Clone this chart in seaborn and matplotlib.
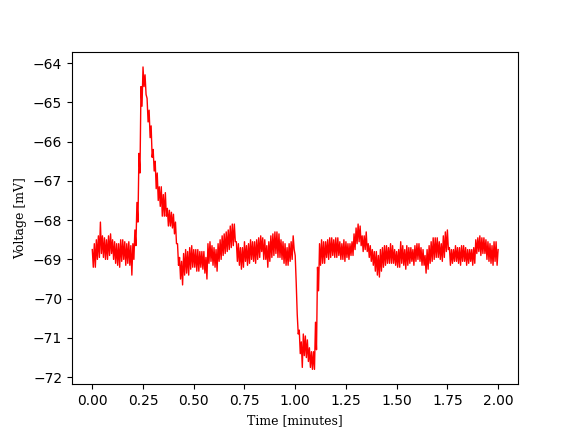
import numpy as np
import pandas as pd
import matplotlib
matplotlib.use("Agg")
import matplotlib.pyplot as plt
import seaborn as sns

# sampling grid of the recording (minutes), one reading every 0.01 min
time_min = np.round(np.linspace(0.0, 2.0, 201), 3)

# upper edge of the noisy trace at each sample (mV)
v_upper = [
    -68.75, -68.60, -68.50, -68.40, -68.05, -68.40, -68.45, -68.50, -68.40, -68.35,
    -68.50, -68.55, -68.60, -68.60, -68.50, -68.50, -68.55, -68.60, -68.55, -68.65,
    -68.60, -68.25, -67.55, -66.30, -64.60, -64.10, -64.30, -64.90, -65.20, -65.60,
    -66.20, -66.50, -66.80, -67.15, -67.15, -67.35, -67.30, -67.70, -67.75, -67.80,
    -67.85, -68.05, -68.60, -68.95, -69.05, -68.85, -68.75, -68.80, -68.70, -68.65,
    -68.75, -68.75, -68.75, -68.80, -68.80, -68.80, -68.95, -68.60, -68.55, -68.65,
    -68.70, -68.75, -68.60, -68.50, -68.40, -68.35, -68.30, -68.25, -68.15, -68.10,
    -68.10, -68.55, -68.60, -68.70, -68.70, -68.55, -68.65, -68.60, -68.50, -68.55,
    -68.55, -68.50, -68.45, -68.40, -68.45, -68.50, -68.65, -68.55, -68.40, -68.35,
    -68.30, -68.30, -68.35, -68.50, -68.55, -68.60, -68.70, -68.60, -68.55, -68.40,
    -68.90, -70.40, -70.80, -71.10, -70.90, -70.95, -71.05, -71.25, -71.35, -71.35,
    -70.60, -69.20, -68.60, -68.50, -68.55, -68.55, -68.50, -68.45, -68.45, -68.50,
    -68.45, -68.45, -68.55, -68.60, -68.50, -68.55, -68.60, -68.60, -68.55, -68.35,
    -68.20, -68.10, -68.15, -68.40, -68.40, -68.30, -68.60, -68.65, -68.75, -68.80,
    -68.80, -68.90, -68.75, -68.70, -68.65, -68.65, -68.70, -68.60, -68.65, -68.75,
    -68.80, -68.75, -68.55, -68.65, -68.75, -68.65, -68.70, -68.70, -68.75, -68.65,
    -68.60, -68.60, -68.70, -68.75, -68.90, -68.75, -68.65, -68.55, -68.45, -68.45,
    -68.45, -68.55, -68.60, -68.40, -68.30, -68.25, -68.70, -68.75, -68.75, -68.65,
    -68.70, -68.70, -68.65, -68.65, -68.70, -68.75, -68.75, -68.75, -68.70, -68.50,
    -68.45, -68.40, -68.45, -68.45, -68.50, -68.55, -68.60, -68.65, -68.55, -68.55,
    -68.75,
]

# lower edge of the noisy trace at each sample (mV)
v_lower = [
    -69.20, -69.20, -69.00, -68.95, -68.85, -68.95, -69.00, -69.00, -68.90, -68.85,
    -69.00, -69.10, -69.15, -69.20, -69.05, -69.00, -69.15, -69.10, -69.15, -69.40,
    -69.00, -68.65, -68.05, -66.80, -65.10, -64.60, -64.80, -65.50, -65.90, -66.40,
    -66.75, -67.20, -67.50, -67.65, -67.90, -67.90, -67.90, -68.15, -68.15, -68.20,
    -68.35, -68.60, -69.15, -69.50, -69.65, -69.40, -69.35, -69.40, -69.25, -69.20,
    -69.20, -69.30, -69.30, -69.20, -69.25, -69.35, -69.50, -69.10, -69.05, -69.15,
    -69.20, -69.30, -69.05, -69.00, -68.90, -68.85, -68.80, -68.75, -68.70, -68.65,
    -68.55, -69.05, -69.15, -69.25, -69.20, -69.05, -69.15, -69.10, -69.00, -69.05,
    -69.10, -69.00, -68.95, -68.80, -69.00, -69.00, -69.20, -69.05, -68.95, -68.90,
    -68.85, -68.95, -68.95, -69.00, -69.10, -69.15, -69.15, -69.05, -69.00, -68.75,
    -69.60, -70.90, -71.40, -71.75, -71.45, -71.50, -71.60, -71.75, -71.80, -71.80,
    -71.30, -69.80, -69.15, -69.10, -69.10, -68.95, -69.00, -68.95, -68.90, -68.95,
    -68.95, -68.90, -69.00, -69.00, -69.05, -68.95, -69.00, -68.90, -68.90, -68.75,
    -68.60, -68.55, -68.65, -68.80, -68.75, -68.80, -68.95, -69.05, -69.15, -69.30,
    -69.40, -69.45, -69.30, -69.20, -69.15, -69.10, -69.10, -69.10, -69.10, -69.15,
    -69.20, -69.20, -69.10, -69.15, -69.25, -69.15, -69.10, -69.05, -69.15, -69.05,
    -69.00, -69.05, -69.15, -69.15, -69.35, -69.25, -69.10, -69.05, -69.00, -68.95,
    -68.95, -69.00, -69.05, -68.95, -68.80, -68.75, -69.15, -69.10, -69.05, -69.05,
    -69.10, -69.15, -69.05, -69.05, -69.15, -69.10, -69.05, -69.15, -69.10, -68.85,
    -68.80, -68.90, -68.85, -68.85, -69.00, -69.05, -69.10, -69.15, -69.05, -69.15,
    -69.15,
]

# interleave upper / lower edges half a sample apart so the trace fills its noise band
t_lo = time_min[:-1] + 0.005
t_all = np.concatenate([time_min, t_lo])
v_all = np.concatenate([v_upper, v_lower[:-1]])
df = pd.DataFrame({"time": t_all, "voltage": v_all}).sort_values("time")

fig, ax = plt.subplots(figsize=(5.76, 4.32), dpi=100)
sns.lineplot(data=df, x="time", y="voltage", color="red", linewidth=1.0,
             estimator=None, errorbar=None, sort=False, ax=ax)

ax.set_xlabel("Time [minutes]", family="DejaVu Serif", fontsize=9)
ax.set_ylabel("Voltage [mV]", family="DejaVu Serif", fontsize=9)
ax.set_xticks([0.0, 0.25, 0.5, 0.75, 1.0, 1.25, 1.5, 1.75, 2.0])

fig.savefig("out.png", dpi=100)
